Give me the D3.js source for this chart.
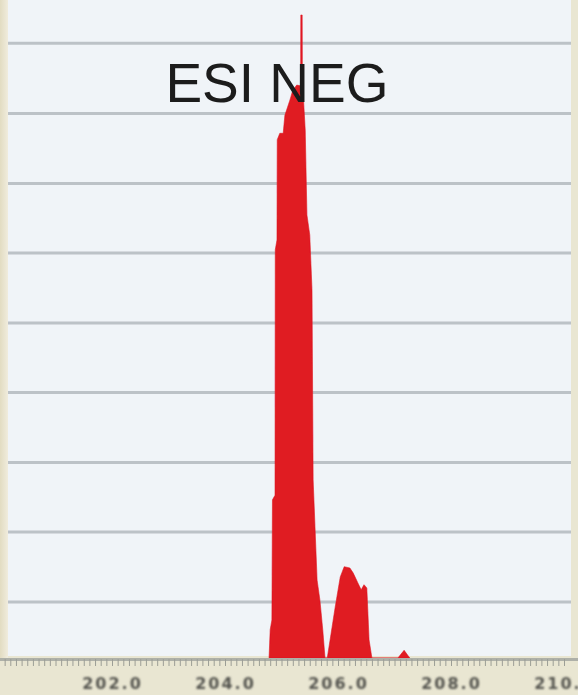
<!DOCTYPE html>
<html>
<head>
<meta charset="utf-8">
<script src="https://cdn.jsdelivr.net/npm/d3@7"></script>
<style>
  html, body { margin: 0; padding: 0; background: #e9e6d2; }
  svg { display: block; }
</style>
</head>
<body>
<div id="chart"></div>
<script>
// Chart dimensions (whole window).
var width = 578;
var height = 695;

// Plot frame in pixels.
var m = { left: 8, right: 571, top: 0, base: 658 };

// Mass axis (m/z) and relative intensity (%).
var mz = [204.78, 204.80, 204.83, 204.84, 204.885, 204.89, 204.92, 204.925, 204.97, 205.03,
          205.06, 205.15, 205.20, 205.27, 205.33, 205.338, 205.342, 205.366, 205.37, 205.38,
          205.42, 205.45, 205.50, 205.54, 205.56, 205.63, 205.68, 205.73, 205.77, 205.81,
          205.86, 205.95, 206.04, 206.11, 206.21, 206.27, 206.35, 206.41, 206.46, 206.51,
          206.55, 206.60, 207.06, 207.17, 207.27];
var intensity = [0, 4.4, 5.9, 24.6, 25.3, 63.5, 65.0, 80.6, 81.6, 81.6,
                 84.4, 86.8, 88.3, 89.1, 89.0, 89.0, 100, 100, 88.5, 88.3,
                 82.1, 68.9, 65.8, 57.2, 27.7, 12.1, 9.0, 4.4, 0, 0,
                 2.8, 7.9, 12.6, 14.2, 14.0, 13.2, 11.7, 10.6, 11.4, 10.9,
                 2.8, 0, 0, 1.2, 0];

// Grid line levels (% intensity) and labelled mass ticks.
var gridLevels = [8.7, 19.6, 30.4, 41.3, 52.1, 63.0, 73.8, 84.7, 95.6];
var tickValues = [202, 204, 206, 208, 210];
var title = "ESI NEG";

var x = d3.scaleLinear()
    .domain([200, 210])
    .range([-1, 564]);

var y = d3.scaleLinear()
    .domain([0, 100])
    .range([m.base, 15]);

var svg = d3.select("#chart").append("svg")
    .attr("width", width)
    .attr("height", height);

var defs = svg.append("defs");
defs.append("filter").attr("id", "soft")
    .append("feGaussianBlur").attr("stdDeviation", 0.7);
defs.append("filter").attr("id", "softer")
    .append("feGaussianBlur").attr("stdDeviation", 0.9);

var edge = defs.append("linearGradient").attr("id", "edge");
edge.append("stop").attr("offset", "0%").attr("stop-color", "#e2dcc2");
edge.append("stop").attr("offset", "100%").attr("stop-color", "#f0ecdd");

// Beige frame and light plot background.
svg.append("rect")
    .attr("width", width).attr("height", height)
    .attr("fill", "#e9e6d2");
svg.append("rect")
    .attr("x", 0).attr("y", 0)
    .attr("width", m.left).attr("height", m.base)
    .attr("fill", "url(#edge)");
svg.append("rect")
    .attr("x", m.left).attr("y", m.top)
    .attr("width", m.right - m.left).attr("height", m.base - 2)
    .attr("fill", "#f0f4f8");

var g = svg.append("g").attr("filter", "url(#soft)");

// Horizontal grid lines.
g.selectAll("line.grid")
    .data(gridLevels)
    .enter().append("line")
    .attr("class", "grid")
    .attr("x1", m.left).attr("x2", m.right)
    .attr("y1", function(d) { return y(d); })
    .attr("y2", function(d) { return y(d); })
    .attr("stroke", "#bcc2c7")
    .attr("stroke-width", 3);

// Spectrum.
var area = d3.area()
    .x(function(d, i) { return x(mz[i]); })
    .y0(y(0))
    .y1(function(d) { return y(d); });

g.append("path")
    .datum(intensity)
    .attr("d", area)
    .attr("fill", "#e01a22")
    .attr("stroke", "#e01a22")
    .attr("stroke-width", 0.6);

// Axis: minor ticks every 0.1, labelled every 2.0.
var axisG = g.append("g")
    .attr("transform", "translate(0," + (m.base + 1) + ")");

axisG.append("rect")
    .attr("x", 0).attr("y", -1)
    .attr("width", width).attr("height", 3)
    .attr("fill", "#aeb0a8");

axisG.call(d3.axisBottom(x)
        .ticks(100)
        .tickSize(7)
        .tickFormat(""))
    .call(function(s) { s.select(".domain").remove(); })
    .call(function(s) { s.selectAll("line").attr("stroke", "#9c9e96").attr("stroke-width", 1); });

var labels = svg.append("g")
    .attr("transform", "translate(0," + (m.base + 1) + ")")
    .attr("filter", "url(#softer)")
    .call(d3.axisBottom(x)
        .tickValues(tickValues)
        .tickSize(0)
        .tickPadding(19)
        .tickFormat(d3.format(".1f")));
labels.select(".domain").remove();
labels.selectAll("text")
    .attr("font-family", "DejaVu Sans")
    .attr("font-weight", "bold")
    .attr("font-size", 16)
    .attr("letter-spacing", 2)
    .attr("fill", "#55554f");

// Title over the peak.
svg.append("text")
    .attr("x", 277)
    .attr("y", 102)
    .attr("text-anchor", "middle")
    .attr("font-family", "Liberation Sans")
    .attr("font-size", 55)
    .attr("fill", "#1c1c1c")
    .text(title);
</script>
</body>
</html>
